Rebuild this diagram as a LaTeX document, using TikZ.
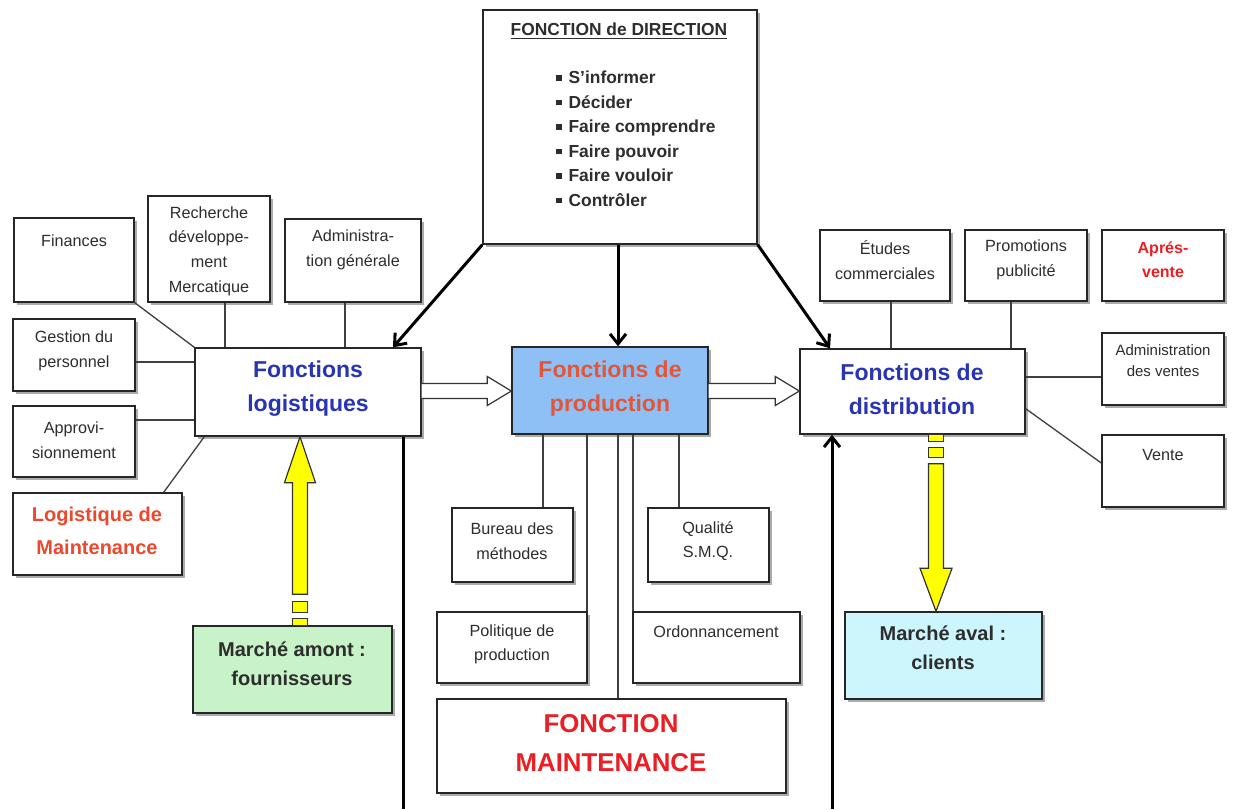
\documentclass[tikz,border=0pt]{standalone}
\usepackage{fontspec}
\setmainfont{Liberation Sans}
\usetikzlibrary{arrows.meta,shadows,fit,calc}
\definecolor{textgray}{RGB}{45,45,45}
\definecolor{bluet}{RGB}{40,52,180}
\definecolor{orangered}{RGB}{235,72,45}
\definecolor{prodred}{RGB}{226,86,56}
\definecolor{mred}{RGB}{236,30,36}
\definecolor{prodfill}{RGB}{142,192,245}
\definecolor{amontfill}{RGB}{200,242,200}
\definecolor{avalfill}{RGB}{205,245,252}
\definecolor{yell}{RGB}{255,255,0}
\newcommand\mysq{\rule[1.6pt]{2.8pt}{2.8pt}\hspace{3.3pt}}
\begin{document}
\begin{tikzpicture}[x=0.5pt,y=-0.5pt,
  box/.style={draw=black!85, line width=0.7pt, fill=white, inner sep=0pt,
    drop shadow={shadow xshift=1.3pt, shadow yshift=-1.3pt, fill=black!60, opacity=0.55}},
  txt/.style={font=\fontsize{8.1}{12.2}\selectfont, text=textgray, align=center, inner sep=0pt},
  bigtxt/.style={font=\bfseries\fontsize{11.5}{17}\selectfont, align=center, inner sep=0pt},
  mkttxt/.style={font=\bfseries\fontsize{10}{14.5}\selectfont, text=textgray, align=center, inner sep=0pt},
  link/.style={draw=black!75, line width=0.65pt},
  dirarrow/.style={draw=black, line width=1.5pt, -{Straight Barb[length=5pt,width=8pt]}},
  thickline/.style={draw=black, line width=1.5pt},
  hol/.style={draw=black!80, fill=white, line width=0.6pt, line join=miter},
  yel/.style={draw=black!80, fill=yell, line width=0.6pt, line join=miter}]
\useasboundingbox (0,0) rectangle (1234,809);
\fill[white] (0,0) rectangle (1234,809);

% Direction
\node[box, fit={(483,10) (757,244)}] (dir) {};
\node[font=\bfseries\fontsize{8.7}{10}\selectfont, text=textgray, inner sep=0pt] (dirt) at (619,31) {\underline{FONCTION de DIRECTION}};
\node[anchor=west, align=left, inner sep=0pt, text=textgray, font=\bfseries\fontsize{8.7}{12.25}\selectfont] (dirl) at (556,139)
 {\mysq S’informer\\ \mysq Décider\\ \mysq Faire comprendre\\ \mysq Faire pouvoir\\ \mysq Faire vouloir\\ \mysq Contrôler};

% Left side
\node[box, fit={(14,218) (134,302)}] (fin) {};
\node[txt] (fint) at (74,241) {Finances};
\node[box, fit={(148,196) (270,302)}] (rec) {};
\node[txt, font=\fontsize{8.1}{12.35}\selectfont] (rect) at (209,251) {Recherche\\développe-\\ment\\Mercatique};
\node[box, fit={(285,219) (421,302)}] (adm) {};
\node[txt] (admt) at (353,250) {Administra-\\tion générale};
\node[box, fit={(13,319) (135,391)}] (ges) {};
\node[txt] (gest) at (74,351) {Gestion du\\personnel};
\node[box, fit={(13,406) (135,477)}] (app) {};
\node[txt] (appt) at (74,440) {Approvi-\\sionnement};
\node[box, fit={(13,493) (182,575)}] (lmt) {};
\node[mkttxt, text=orangered, font=\bfseries\fontsize{10}{16.5}\selectfont] (lmtt) at (97,531) {Logistique de\\Maintenance};
\node[box, fit={(195,348) (421,436)}] (log) {};
\node[bigtxt, text=bluet] (logt) at (308,389) {Fonctions\\logistiques};

% Production
\node[box, fill=prodfill, fit={(512,347) (708,434)}] (prod) {};
\node[bigtxt, text=prodred] (prodt) at (610,389) {Fonctions de\\production};
\node[box, fit={(800,349) (1025,434)}] (dist) {};
\node[bigtxt, text=bluet] (distt) at (912,389) {Fonctions de\\distribution};

% Right side
\node[box, fit={(820,230) (950,301)}] (etu) {};
\node[txt] (etut) at (885,260) {Études\\commerciales};
\node[box, fit={(965,230) (1087,301)}] (pro) {};
\node[txt] (prot) at (1026,260) {Promotions\\publicité};
\node[box, fit={(1102,230) (1224,301)}] (apv) {};
\node[txt, text=mred, font=\bfseries\fontsize{8}{12.2}\selectfont] (apvt) at (1163,260) {Aprés-\\vente};
\node[box, fit={(1102,333) (1224,405)}] (adv) {};
\node[txt, font=\fontsize{7.5}{10.5}\selectfont] (advt) at (1163,361) {Administration\\des ventes};
\node[box, fit={(1102,435) (1224,507)}] (ven) {};
\node[txt] (vent) at (1163,455) {Vente};

% Production sub boxes
\node[box, fit={(452,508) (573,582)}] (bur) {};
\node[txt] (burt) at (512,541) {Bureau des\\méthodes};
\node[box, fit={(648,508) (769,582)}] (qua) {};
\node[txt] (quat) at (708,541) {Qualité\\S.M.Q.};
\node[box, fit={(437,612) (587,683)}] (pol) {};
\node[txt] (polt) at (512,644) {Politique de\\production};
\node[box, fit={(633,612) (800,683)}] (ord) {};
\node[txt] (ordt) at (716,632) {Ordonnancement};
\node[box, fit={(437,699) (786,793)}] (mnt) {};
\node[txt, text=mred, font=\bfseries\fontsize{12.9}{19.5}\selectfont] (mntt) at (611,743) {FONCTION\\MAINTENANCE};

% Markets
\node[box, fill=amontfill, fit={(193,626) (392,713)}] (amo) {};
\node[mkttxt] (amot) at (292,664) {Marché amont :\\fournisseurs};
\node[box, fill=avalfill, fit={(845,612) (1042,699)}] (ava) {};
\node[mkttxt] (avat) at (943,648) {Marché aval :\\clients};

% helper coordinates
\coordinate (xr) at (225,0);
\coordinate (xa) at (345,0);
\coordinate (yg) at (0,362);
\coordinate (ya2) at (0,420);
\coordinate (xe) at (891,0);
\coordinate (xp) at (1011,0);
\coordinate (yv) at (0,377);
\coordinate (xb) at (543,0);
\coordinate (xpo) at (587,0);
\coordinate (xm) at (618,0);
\coordinate (xo) at (633,0);
\coordinate (xq) at (679,0);
\coordinate (xl) at (393,0);
\coordinate (xdd) at (830,0);
\coordinate (xlv) at (403,0);
\coordinate (xdv) at (832,0);
\coordinate (yh) at (0,391);
\coordinate (xy1) at (300,0);
\coordinate (xy2) at (936,0);
\coordinate (bl) at (403,809);
\coordinate (br) at (832,809);

% left links
\draw[link] (fin.south east) -- (log.north west);
\draw[link] (rec.south -| xr) -- (log.north -| xr);
\draw[link] (adm.south -| xa) -- (log.north -| xa);
\draw[link] (ges.east |- yg) -- (log.west |- yg);
\draw[link] (app.east |- ya2) -- (log.west |- ya2);
\draw[link] ($(lmt.north east)+(-19,0)$) -- ($(log.south west)+(10,0)$);

% right links
\draw[link] (etu.south -| xe) -- (dist.north -| xe);
\draw[link] (pro.south -| xp) -- (dist.north -| xp);
\draw[link] (dist.east |- yv) -- (adv.west |- yv);
\draw[link] ($(dist.south east)+(0,-26)$) -- ($(ven.west)+(0,-8)$);

% production links
\draw[link] (prod.south -| xb) -- (bur.north -| xb);
\draw[link] (prod.south -| xpo) -- (pol.north -| xpo);
\draw[link] (prod.south -| xm) -- (mnt.north -| xm);
\draw[link] (prod.south -| xo) -- (ord.north -| xo);
\draw[link] (prod.south -| xq) -- (qua.north -| xq);

% direction arrows
\draw[dirarrow] (dir.south west) -- (log.north -| xl);
\draw[dirarrow] (dir.south -| xm) -- (prod.north -| xm);
\draw[dirarrow] (dir.south east) -- (dist.north -| xdd);

% thick vertical lines
\draw[thickline] (log.south -| xlv) -- (bl);
\draw[dirarrow] (br) -- (dist.south -| xdv);

% hollow arrows
\coordinate (h1) at (log.east |- yh);
\coordinate (h2) at (prod.west |- yh);
\coordinate (h3) at (prod.east |- yh);
\coordinate (h4) at (dist.west |- yh);
\draw[hol] ($(h1)+(0,-7.5)$) -- ($(h2)+(-24,-7.5)$) -- ($(h2)+(-24,-14.5)$) -- (h2)
  -- ($(h2)+(-24,14.5)$) -- ($(h2)+(-24,7.5)$) -- ($(h1)+(0,7.5)$);
\draw[hol] ($(h3)+(0,-7.5)$) -- ($(h4)+(-24,-7.5)$) -- ($(h4)+(-24,-14.5)$) -- (h4)
  -- ($(h4)+(-24,14.5)$) -- ($(h4)+(-24,7.5)$) -- ($(h3)+(0,7.5)$);

% yellow arrow up
\coordinate (ya) at (log.south -| xy1);
\coordinate (yb) at (amo.north -| xy1);
\draw[yel] ($(ya)+(-7.5,46)$) -- ($(ya)+(-15.5,46)$) -- (ya) -- ($(ya)+(15.5,46)$)
  -- ($(ya)+(7.5,46)$) -- ($(yb)+(7.5,-31)$) -- ($(yb)+(-7.5,-31)$) -- cycle;
\draw[yel] ($(yb)+(-7.5,-24)$) rectangle ($(yb)+(7.5,-13)$);
\draw[yel] ($(yb)+(-7.5,-7)$) rectangle ($(yb)+(7.5,0)$);

% yellow arrow down
\coordinate (yc) at (dist.south -| xy2);
\coordinate (yd) at (ava.north -| xy2);
\draw[yel] ($(yc)+(-7.5,0)$) rectangle ($(yc)+(7.5,7)$);
\draw[yel] ($(yc)+(-7.5,13)$) rectangle ($(yc)+(7.5,23)$);
\draw[yel] ($(yc)+(-7.5,29)$) -- ($(yc)+(7.5,29)$) -- ($(yd)+(7.5,-43)$) -- ($(yd)+(16,-43)$)
  -- (yd) -- ($(yd)+(-16,-43)$) -- ($(yd)+(-7.5,-43)$) -- cycle;
\end{tikzpicture}
\end{document}
